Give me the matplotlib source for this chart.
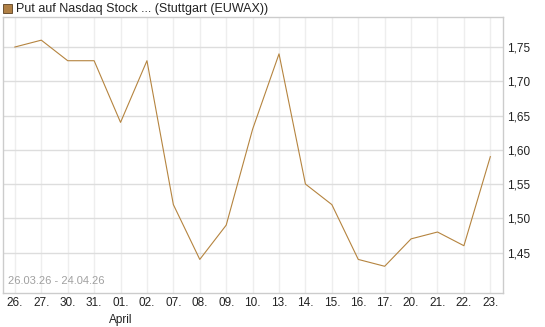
import matplotlib
matplotlib.use('Agg')
import matplotlib.pyplot as plt
from matplotlib.patches import Rectangle

plt.rcParams['font.family'] = ['Liberation Sans', 'DejaVu Sans']

## data
days = ['26.', '27.', '30.', '31.', '01.', '02.', '07.', '08.', '09.', '10.',
        '13.', '14.', '15.', '16.', '17.', '20.', '21.', '22.', '23.']
prices = [1.75, 1.76, 1.73, 1.73, 1.64, 1.73, 1.52, 1.44, 1.49, 1.63,
          1.74, 1.55, 1.52, 1.44, 1.43, 1.47, 1.48, 1.46, 1.59]
yticks = [1.45, 1.50, 1.55, 1.60, 1.65, 1.70, 1.75]
title = 'Put auf Nasdaq Stock ... (Stuttgart (EUWAX))'
period = '26.03.26 - 24.04.26'

line_col = '#b5843f'

fig = plt.figure(figsize=(5.45, 3.27), dpi=100)
ax = fig.add_axes([3 / 545, 1 - 293 / 327, 500 / 545, 276 / 327])

x = list(range(len(days)))
ax.plot(x, prices, color=line_col, lw=0.8)

ax.set_xlim(-0.45, 18.48)
ax.set_ylim(1.391, 1.7938)

ax.set_xticks(x)
ax.set_xticklabels(days, fontsize=8.5)
ax.set_yticks(yticks)
ax.set_yticklabels([('%.2f' % v).replace('.', ',') for v in yticks], fontsize=8.5)
ax.yaxis.tick_right()
ax.tick_params(axis='both', length=0, colors='#222222')
ax.tick_params(axis='x', pad=3)
ax.tick_params(axis='y', pad=3)

ax.grid(axis='x', color='#eeeeee', lw=1)
ax.grid(axis='y', color='#dddddd', lw=1)
ax.set_axisbelow(True)
for s in ax.spines.values():
    s.set_color('#cccccc')
    s.set_linewidth(1)

## month label under 01.
ax.text(4, -0.075, 'April', transform=ax.get_xaxis_transform(),
        ha='center', va='top', fontsize=8.5, color='#222222')

## date range inside the plot
ax.text(0.01, 0.025, period, transform=ax.transAxes, ha='left', va='bottom',
        fontsize=8, color='#a0a0a0')

## legend-like title with square
fig.patches.append(Rectangle((3 / 545, 1 - 13 / 327), 9 / 545, 9 / 327,
                             transform=fig.transFigure, facecolor='#b08045',
                             edgecolor='#5a4020', lw=0.6))
fig.text(16 / 545, 1 - 9 / 327, title, ha='left', va='center', fontsize=9,
         color='#222222')

plt.savefig('out.png', dpi=100)
